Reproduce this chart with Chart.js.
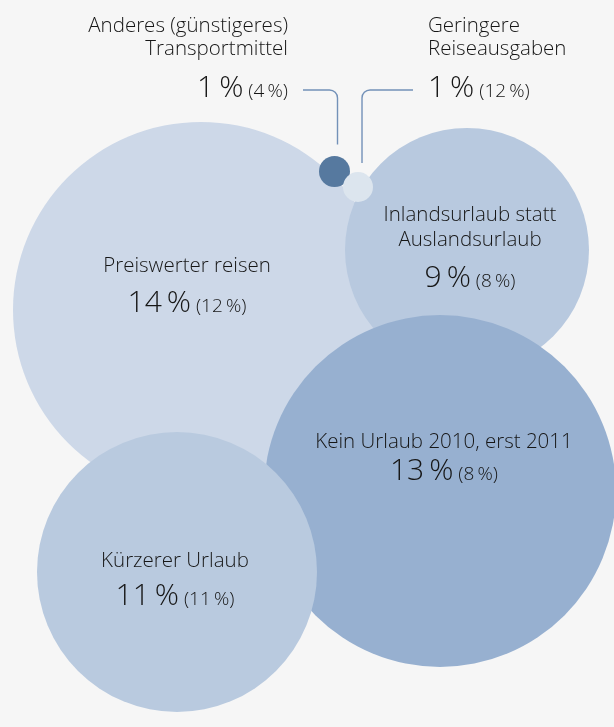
<!DOCTYPE html>
<html>
<head>
<meta charset="utf-8">
<script src="https://cdn.jsdelivr.net/npm/chart.js@4/dist/chart.umd.min.js"></script>
<style>
html,body{margin:0;padding:0;background:#f6f6f6;}
#wrap{width:614px;height:727px;position:relative;}
</style>
</head>
<body>
<div id="wrap"><canvas id="bubbles"></canvas></div>
<script>

// answers in 2010, previous year in brackets
const categories = [
"Preiswerter reisen",
"Inlandsurlaub statt|Auslandsurlaub",
"Kein Urlaub 2010, erst 2011",
"Kürzerer Urlaub",
"Anderes (günstigeres)|Transportmittel",
"Geringere|Reiseausgaben"
];
const share2010 = [14, 9, 13, 11, 1, 1];
const sharePrev = [12, 8, 8, 11, 4, 12];

// bubble placement (scale units) and size
const bubbleX = [201, 467, 440, 177, 334.5, 358];
const bubbleY = [310, 250, 491, 572, 171.5, 187];
const bubbleSize = [188, 122, 176, 140, 15.5, 15];

const colors = ["#cdd8e8","#b8c9df","#97b0d0","#b9cadf","#56799f","#dce5ee"];

const FONT = "'Open Sans', sans-serif";
const SP = "\u2009";

function pct(v){ return v + SP + "%"; }

// where the texts sit, relative to the bubble centre
const labelPos = [
{dx:-14, lines:[-38], num:2, align:"center"},
{dx:3, lines:[-29,-4], num:37, align:"center"},
{dx:4, lines:[-43], num:-11, align:"center"},
{dx:-2, lines:[-5], num:33, align:"center"},
{ax:288, lines:[32,55], num:97, align:"right"},
{ax:428, lines:[32,55], num:97, align:"left"}
];

function drawNumber(ctx, x, y, i, align){

const big = pct(share2010[i]);
const small = " (" + pct(sharePrev[i]) + ")";

ctx.font = "300 30px " + FONT;
const wb = ctx.measureText(big).width;
ctx.font = "300 19px " + FONT;
const ws = ctx.measureText(small).width;

let left = x - (wb + ws)/2;
if(align==="right") left = x - wb - ws;
if(align==="left") left = x;

ctx.textAlign = "left";
ctx.font = "300 30px " + FONT;
ctx.fillText(big, left, y);
ctx.font = "300 19px " + FONT;
ctx.fillText(small, left + wb, y);

}

const labelPlugin = {
id:"labels",
afterDatasetsDraw(chart){

const ctx = chart.ctx;
const pts = chart.getDatasetMeta(0).data;

ctx.save();

/* leader lines for the two small bubbles */
ctx.strokeStyle = "#7391b8";
ctx.lineWidth = 1.4;

const a = pts[4];
ctx.beginPath();
ctx.moveTo(a.x + 3, a.y - 27);
ctx.lineTo(a.x + 3, 98);
ctx.arcTo(a.x + 3, 90, a.x - 5, 90, 8);
ctx.lineTo(303, 90);
ctx.stroke();

const b = pts[5];
ctx.beginPath();
ctx.moveTo(b.x + 4, b.y - 24);
ctx.lineTo(b.x + 4, 98);
ctx.arcTo(b.x + 4, 90, b.x + 12, 90, 8);
ctx.lineTo(413, 90);
ctx.stroke();

ctx.fillStyle = "#161616";
ctx.textBaseline = "alphabetic";

categories.forEach((c, i) => {

const p = labelPos[i];
const lines = c.split("|");
const x = p.ax !== undefined ? p.ax : pts[i].x + p.dx;
const base = p.ax !== undefined ? 0 : pts[i].y;

ctx.font = "300 20.5px " + FONT;
ctx.textAlign = p.align;
lines.forEach((t, k) => {
ctx.fillText(t, x, base + p.lines[k]);
});

drawNumber(ctx, x, base + p.num, i, p.align);

});

ctx.restore();

}
};

const ctx = document.getElementById("bubbles").getContext("2d");

new Chart(ctx,{
type:"bubble",
data:{
datasets:[{
data: categories.map((c, i) => ({x:bubbleX[i], y:bubbleY[i], r:bubbleSize[i]})),
backgroundColor: colors,
borderWidth:0,
hoverRadius:0,
clip:false
}]
},
options:{
responsive:true,
maintainAspectRatio:false,
animation:false,
layout:{padding:0, autoPadding:false},
plugins:{legend:{display:false}, tooltip:{enabled:false}},
events:[],
scales:{
x:{display:false, min:0, max:614},
y:{display:false, min:0, max:727, reverse:true}
}
},
plugins:[labelPlugin]
});

</script>
</body>
</html>
